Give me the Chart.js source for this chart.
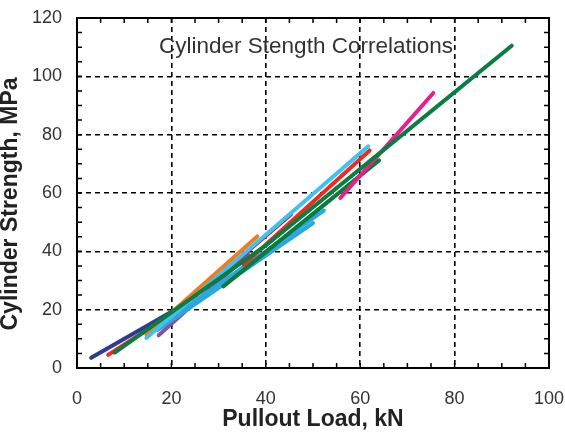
<!DOCTYPE html>
<html lang="en">

<head>
  <meta charset="UTF-8">
  <title>Cylinder Strength Correlations</title>
  <script src="https://cdn.jsdelivr.net/npm/chart.js"></script>
  <style>
    body { margin: 0; background: #fff; }
  </style>
</head>

<body>
  <canvas id="chartPullout" width="565" height="437"></canvas>

  <script>
    // values (pullout load kN -> cylinder strength MPa)
    const navyX = [3, 23];
    const navyY = [3.5, 22];
    const redLowX = [6.6, 22];
    const redLowY = [4.5, 20.5];
    const redHighX = [35.3, 62];
    const redHighY = [35.4, 74.6];
    const greenLongX = [8, 40, 64, 92.1];
    const greenLongY = [5.3, 42, 73.5, 110.5];
    const greenShortX = [31, 64];
    const greenShortY = [28, 71.2];
    const orangeX = [14.7, 38.2];
    const orangeY = [11.4, 45.1];
    const skyX = [14.7, 61.7];
    const skyY = [10.3, 76];
    const blueAX = [17, 50];
    const blueAY = [13, 49.7];
    const blueBX = [22, 52.3];
    const blueBY = [19.5, 54];
    const purpleX = [17.3, 36.3];
    const purpleY = [11.2, 38.8];
    const maroonX = [21, 45.3];
    const maroonY = [19, 52.6];
    const magentaX = [55.8, 75.5];
    const magentaY = [58.3, 94.3];

    const xTicks = [0, 20, 40, 60, 80, 100];
    const yTicks = [0, 20, 40, 60, 80, 100, 120];

    const FONT = '"Liberation Sans", Arial, sans-serif';

    function pts(xs, ys) {
      return xs.map((x, i) => ({ x: x, y: ys[i] }));
    }

    function line(xs, ys, color) {
      return {
        data: pts(xs, ys),
        showLine: true,
        borderColor: color,
        backgroundColor: color,
        borderWidth: 4,
        borderCapStyle: 'round',
        pointRadius: 0,
        tension: 0
      };
    }

    // first dataset is drawn on top
    const datasets = [
      line(greenLongX, greenLongY, '#0B7D40'),
      line(magentaX, magentaY, '#EC1C8C'),
      line(skyX, skyY, '#3EC3F0'),
      line(redHighX, redHighY, '#EE2A24'),
      line(greenShortX, greenShortY, '#0B7A3B'),
      line(blueAX, blueAY, '#29A8E0'),
      line(blueBX, blueBY, '#29A8E0'),
      line(maroonX, maroonY, '#B3222C'),
      line(purpleX, purpleY, '#8F4E9F'),
      line(orangeX, orangeY, '#F47A20'),
      line(redLowX, redLowY, '#EE2A24'),
      line(navyX, navyY, '#2D3B92')
    ];

    // frame, inward minor ticks, inner caption and the y title
    const framePlugin = {
      id: 'frame',
      afterDatasetsDraw(chart) {
        const ctx = chart.ctx;
        const a = chart.chartArea;
        const xs = chart.scales.x;
        const ys = chart.scales.y;
        ctx.save();
        ctx.strokeStyle = '#000';
        ctx.lineWidth = 1.5;
        ctx.beginPath();
        for (let v = 5; v < 100; v += 5) {
          const px = xs.getPixelForValue(v);
          ctx.moveTo(px, a.bottom); ctx.lineTo(px, a.bottom - 5);
          ctx.moveTo(px, a.top); ctx.lineTo(px, a.top + 5);
        }
        for (let v = 5; v < 120; v += 5) {
          const py = ys.getPixelForValue(v);
          ctx.moveTo(a.left, py); ctx.lineTo(a.left + 5, py);
          ctx.moveTo(a.right, py); ctx.lineTo(a.right - 5, py);
        }
        ctx.stroke();
        ctx.lineWidth = 2;
        ctx.strokeRect(a.left, a.top, a.right - a.left, a.bottom - a.top);

        ctx.fillStyle = '#333';
        ctx.font = '22.5px ' + FONT;
        ctx.textAlign = 'center';
        ctx.textBaseline = 'middle';
        ctx.fillText('Cylinder Stength Correlations', a.left + 229, a.top + 29);

        ctx.fillStyle = '#222';
        ctx.font = 'bold 23px ' + FONT;
        ctx.translate(11, 204);
        ctx.rotate(-Math.PI / 2);
        ctx.fillText('Cylinder Strength, MPa', 0, 0);
        ctx.restore();
      }
    };

    new Chart(document.getElementById('chartPullout'), {
      type: 'scatter',
      data: { datasets: datasets },
      options: {
        responsive: false,
        animation: false,
        devicePixelRatio: 1,
        layout: { padding: { top: 18, right: 16, left: 0, bottom: 6 } },
        plugins: {
          legend: { display: false },
          tooltip: { enabled: false }
        },
        scales: {
          x: {
            type: 'linear',
            min: 0,
            max: 100,
            afterBuildTicks: (s) => { s.ticks = xTicks.map(v => ({ value: v })); },
            afterFit: (s) => { s.height = 63; s.paddingLeft = 0; s.paddingRight = 0; },
            border: { display: false, dash: [5, 4] },
            grid: {
              color: '#000',
              lineWidth: 1.6,
              drawTicks: false
            },
            ticks: {
              padding: 20,
              color: '#333',
              font: { family: FONT, size: 18 }
            },
            title: {
              display: true,
              text: 'Pullout Load, kN',
              color: '#222',
              padding: 0,
              font: { family: FONT, size: 23, weight: 'bold', lineHeight: 1 }
            }
          },
          y: {
            type: 'linear',
            min: 0,
            max: 120,
            afterBuildTicks: (s) => { s.ticks = yTicks.map(v => ({ value: v })); },
            afterFit: (s) => { s.width = 77; s.paddingTop = 0; s.paddingBottom = 0; },
            border: { display: false, dash: [5, 4] },
            grid: {
              color: '#000',
              lineWidth: 1.6,
              drawTicks: false
            },
            ticks: {
              padding: 15,
              color: '#333',
              font: { family: FONT, size: 18 }
            }
          }
        }
      },
      plugins: [framePlugin]
    });
  </script>
</body>

</html>
